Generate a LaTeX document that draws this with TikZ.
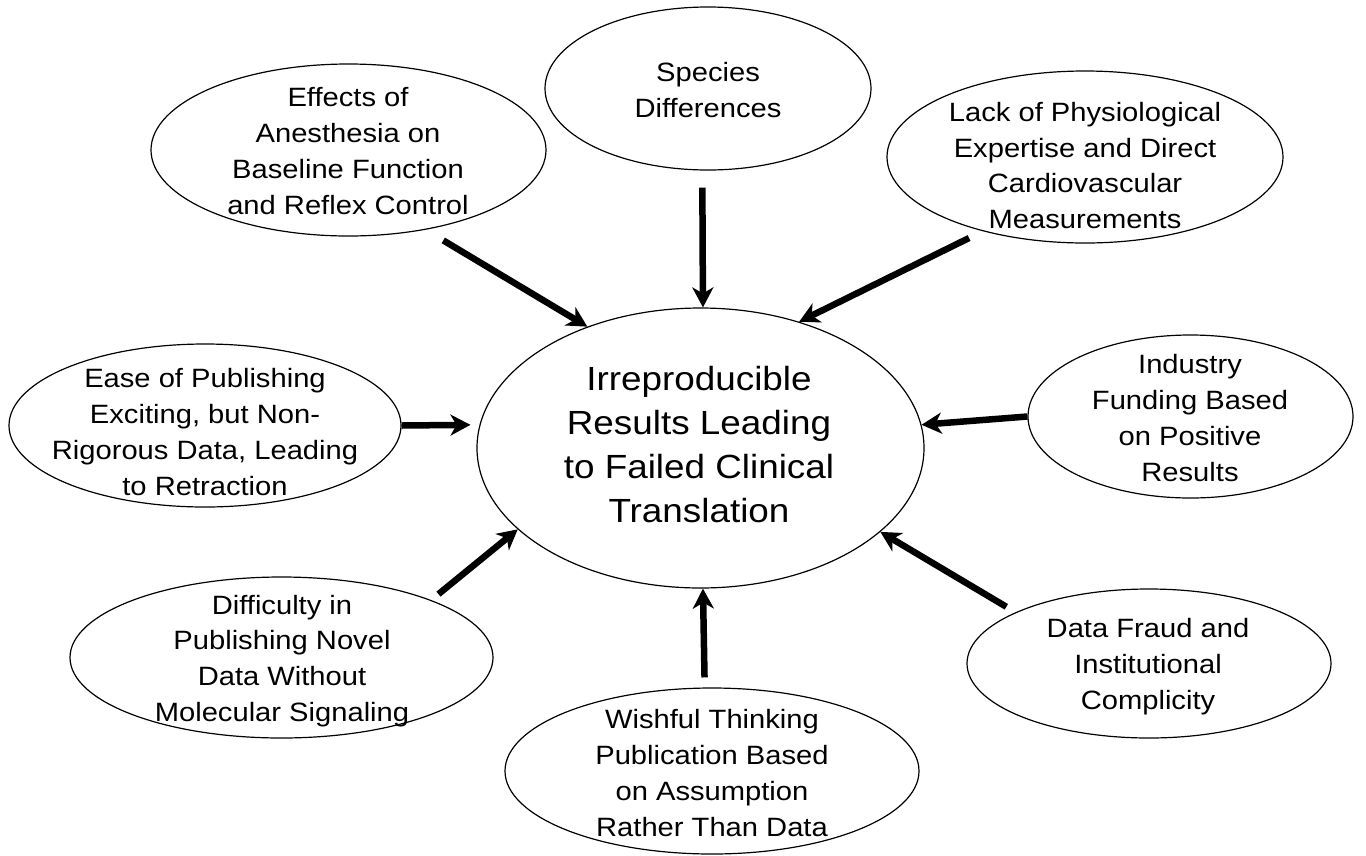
\documentclass[tikz,border=0pt]{standalone}
\usepackage{fontspec}
\setmainfont{Liberation Sans}[FakeStretch=1.1]
\usetikzlibrary{shapes.geometric,arrows.meta}
\begin{document}
\begin{tikzpicture}[x=1pt,y=-1pt,
  oval/.style={draw, line width=1.2pt, ellipse, inner sep=0pt},
  lbl/.style={align=center, font=\fontsize{26.5}{35.7}\selectfont, inner sep=0pt},
  big/.style={align=center, font=\fontsize{33.5}{44.3}\selectfont, inner sep=0pt},
  arr/.style={line width=6.5pt, -{Stealth[length=20pt,width=21pt,inset=6pt]}}]
\useasboundingbox (0,0) rectangle (1366,855);
\fill[white] (0,0) rectangle (1366,855);

% ellipses
\node[oval, minimum width=447pt, minimum height=280pt] (ctr)   at (700.5,448) {};
\node[oval, minimum width=326pt, minimum height=163pt] (spec)  at (708,88.5) {};
\node[oval, minimum width=395pt, minimum height=172pt] (eff)   at (348.5,150) {};
\node[oval, minimum width=396pt, minimum height=172pt] (lack)  at (1085,157) {};
\node[oval, minimum width=392pt, minimum height=163pt] (ease)  at (205,425.5) {};
\node[oval, minimum width=325pt, minimum height=163pt] (ind)   at (1190.5,416.5) {};
\node[oval, minimum width=423pt, minimum height=161pt] (diff)  at (281.5,657.5) {};
\node[oval, minimum width=414pt, minimum height=166pt] (wish)  at (712,771) {};
\node[oval, minimum width=364pt, minimum height=149pt] (fraud) at (1149,663.5) {};

% texts
\node[big] (tctr)   at (699,444.5) {Irreproducible\\Results Leading\\to Failed Clinical\\Translation};
\node[lbl] (tspec)  at (708,90) {Species\\Differences};
\node[lbl] (teff)   at (348,151) {Effects of\\Anesthesia on\\Baseline Function\\and Reflex Control};
\node[lbl] (tlack)  at (1085,165.5) {Lack of Physiological\\Expertise and Direct\\Cardiovascular\\Measurements};
\node[lbl] (tease)  at (205,432) {Ease of Publishing\\Exciting, but Non-\\Rigorous Data, Leading\\to Retraction};
\node[lbl] (tind)   at (1190,418) {Industry\\Funding Based\\on Positive\\Results};
\node[lbl] (tdiff)  at (282,660.8) {Difficulty in\\Publishing Novel\\Data Without\\Molecular Signaling};
\node[lbl] (twish)  at (712,773) {Wishful Thinking\\Publication Based\\on Assumption\\Rather Than Data};
\node[lbl] (tfraud) at (1148,666.8) {Data Fraud and\\Institutional\\Complicity};

% arrows
\draw[arr, shorten <=20.7pt] (eff.-46.4) -- (ctr.133.1);
\draw[arr, shorten <=17pt] (spec.-94.2) -- (ctr.89.4);
\draw[arr, shorten <=15.3pt] (lack.-144.9) -- (ctr.52.1);
\draw[arr, shorten >=9pt] (ease.east) -- (ctr.174.8);
\draw[arr] (ind.west) -- (ctr.6.8);
\draw[arr, shorten <=9.4pt] (diff.21.5) -- (ctr.204.9);
\draw[arr, shorten <=10pt] (wish.95.5) -- (ctr.271.4);
\draw[arr, shorten <=10.7pt] (fraud.159) -- (ctr.335.5);
\end{tikzpicture}
\end{document}
